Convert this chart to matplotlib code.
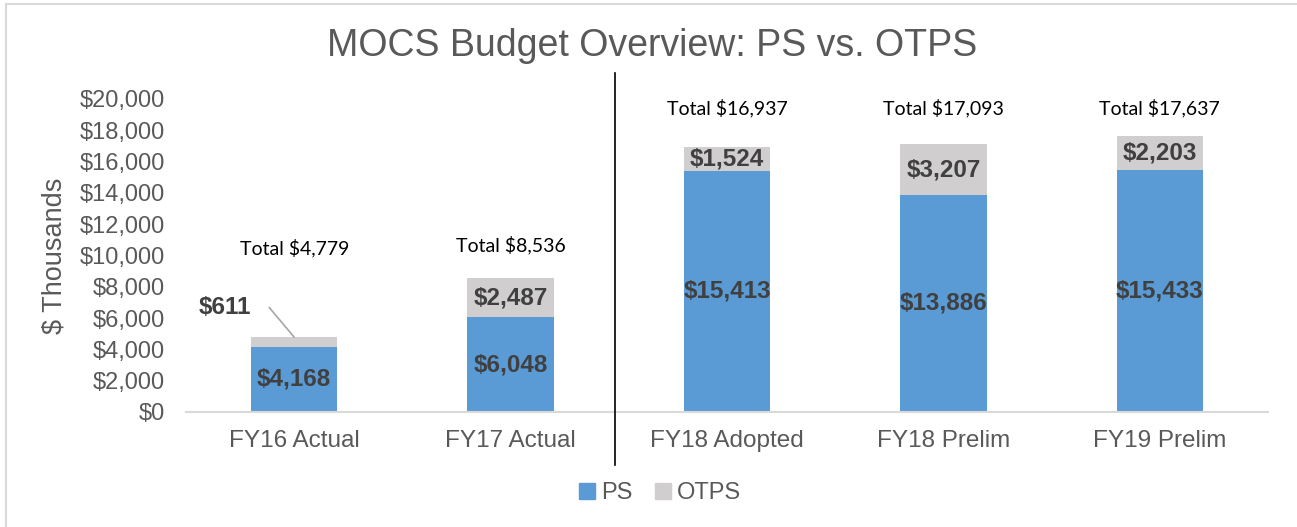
import numpy as np
import matplotlib
matplotlib.use("Agg")
import matplotlib.pyplot as plt
from matplotlib.lines import Line2D

categories = ["FY16 Actual", "FY17 Actual", "FY18 Adopted", "FY18 Prelim", "FY19 Prelim"]
ps = [4168, 6048, 15413, 13886, 15433]
otps = [611, 2487, 1524, 3207, 2203]
totals = [4779, 8536, 16937, 17093, 17637]
yticks = [0, 2000, 4000, 6000, 8000, 10000, 12000, 14000, 16000, 18000, 20000]

# where the "Total" boxes sit (they were placed by hand in the original)
total_label_y = [10480, 10680, 19420, 19420, 19420]

PS_COLOR = "#5B9BD5"
OTPS_COLOR = "#D0CECE"
TEXT_GRAY = "#595959"
LABEL_DARK = "#404040"

plt.rcParams["font.family"] = ["Liberation Sans", "DejaVu Sans"]

W, H = 1297, 527
fig = plt.figure(figsize=(W / 100, H / 100), dpi=100)

def fx(px):
    return px / W

def fy(py):
    return 1 - py / H

ax = fig.add_axes([fx(186), fy(412), fx(1268) - fx(186), fy(99) - fy(412)])

x = np.arange(len(categories))
ax.bar(x, ps, width=0.4, color=PS_COLOR, zorder=2)
ax.bar(x, otps, width=0.4, bottom=ps, color=OTPS_COLOR, zorder=2)

ax.set_xlim(-0.5, len(categories) - 0.5)
ax.set_ylim(0, 20000)
ax.set_yticks(yticks)
ax.set_yticklabels(["${:,}".format(v) for v in yticks])
ax.set_xticks(x)
ax.set_xticklabels(categories)
ax.tick_params(axis="y", length=0, pad=15, labelsize=17, labelcolor=TEXT_GRAY)
ax.tick_params(axis="x", length=0, pad=13, labelsize=17.5, labelcolor=TEXT_GRAY)
for side in ["top", "right", "left"]:
    ax.spines[side].set_visible(False)
ax.spines["bottom"].set_color("#D9D9D9")
ax.spines["bottom"].set_linewidth(1.5)

# data labels
for i in range(len(categories)):
    ax.text(x[i], ps[i] / 2, "${:,}".format(ps[i]), ha="center", va="center",
            fontsize=17.5, fontweight="bold", color=LABEL_DARK, zorder=3)
    if i == 0:
        ax.annotate("${:,}".format(otps[i]), xy=(x[i], ps[i] + otps[i]),
                    xytext=(x[i] - 0.32, ps[i] + otps[i] + 1900),
                    ha="center", va="center", fontsize=17.5, fontweight="bold",
                    color=LABEL_DARK,
                    arrowprops=dict(arrowstyle="-", color="#A6A6A6", lw=1.2,
                                    shrinkA=11, shrinkB=0,
                                    connectionstyle="angle,angleA=0,angleB=-50,rad=0"))
    else:
        ax.text(x[i], ps[i] + otps[i] / 2, "${:,}".format(otps[i]), ha="center",
                va="center", fontsize=17.5, fontweight="bold", color=LABEL_DARK, zorder=3)
    ax.text(x[i], total_label_y[i], "Total ${:,}".format(totals[i]), ha="center",
            va="center", fontsize=14, color="black", family=["Lato", "DejaVu Sans"])

# title, y label
fig.text(fx(652), fy(46), "MOCS Budget Overview: PS vs. OTPS", ha="center", va="center",
         fontsize=27, color=TEXT_GRAY)
fig.text(fx(55), fy(256), "$ Thousands", ha="center", va="center", rotation=90,
         fontsize=19.5, color=TEXT_GRAY)

# divider between actuals and plans
fig.add_artist(Line2D([fx(615), fx(615)], [fy(73), fy(465)], color="black", lw=1.2))

# chart border (left and top edges visible in the crop)
fig.add_artist(Line2D([fx(6), fx(6)], [fy(4), 0], color="#D9D9D9", lw=1.5))
fig.add_artist(Line2D([fx(6), 1], [fy(4), fy(4)], color="#D9D9D9", lw=1.5))

handles = [Line2D([], [], marker="s", linestyle="", markersize=11, color=PS_COLOR),
           Line2D([], [], marker="s", linestyle="", markersize=11, color=OTPS_COLOR)]
fig.legend(handles, ["PS", "OTPS"], loc="center", bbox_to_anchor=(fx(658), fy(493)),
           ncol=2, frameon=False, fontsize=17, labelcolor=TEXT_GRAY,
           handletextpad=0.1, columnspacing=0.8, handlelength=1.0)

fig.savefig("out.png", dpi=100)
